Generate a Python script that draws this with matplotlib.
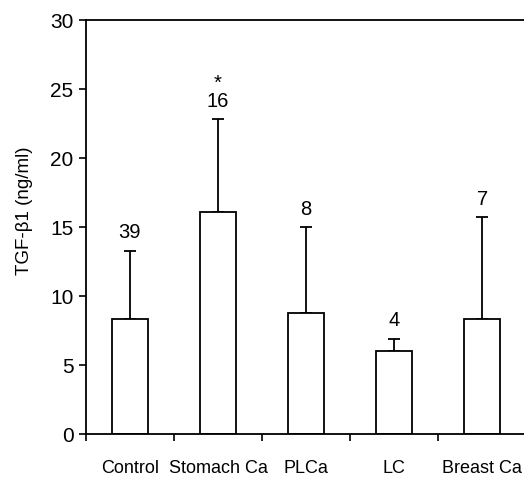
import matplotlib.pyplot as plt
import numpy as np

plt.rcParams['font.family'] = ['Liberation Sans', 'DejaVu Sans']

groups = ["Control", "Stomach Ca", "PLCa", "LC", "Breast Ca"]
means = [8.3, 16.1, 8.8, 6.0, 8.3]
sd = [5.0, 6.7, 6.2, 0.9, 7.4]
n_labels = ["39", "*\n16", "8", "4", "7"]

fig = plt.figure(figsize=(5.24, 4.78), dpi=100)
ax = fig.add_axes([0.164, 0.092, 0.840, 0.866])

x = np.arange(len(groups))
ax.bar(x, means, width=0.41, color="white", edgecolor="black", linewidth=1.3, zorder=2)
ax.errorbar(x, means, yerr=[np.zeros(len(sd)), sd], fmt="none", ecolor="black",
            elinewidth=1.3, capsize=4.3, capthick=1.3, zorder=1)

for xi, m, s, lab in zip(x, means, sd, n_labels):
    ax.annotate(lab, (xi, m + s), xytext=(0, 6), textcoords="offset points",
                ha="center", va="bottom", fontsize=14.5, linespacing=0.95)

ax.set_xlim(-0.5, 4.5)
ax.set_ylim(0, 30)
ax.set_yticks(range(0, 31, 5))
ax.tick_params(axis="y", labelsize=15, length=5, width=1.2, direction="out", pad=4)

ax.set_xticks(x)
ax.set_xticklabels(groups)
ax.set_xticks(np.arange(-0.5, 4.6, 1.0), minor=True)
ax.tick_params(axis="x", which="major", length=0, pad=19, labelsize=13)
ax.tick_params(axis="x", which="minor", length=5, width=1.2, direction="out")

ax.set_ylabel("TGF-β1 (ng/ml)", fontsize=13.5)
ax.yaxis.set_label_coords(-0.12, 0.54)

for side in ["left", "bottom", "top"]:
    ax.spines[side].set_linewidth(1.3)
ax.spines["right"].set_visible(False)

fig.savefig("out.png", dpi=100)
